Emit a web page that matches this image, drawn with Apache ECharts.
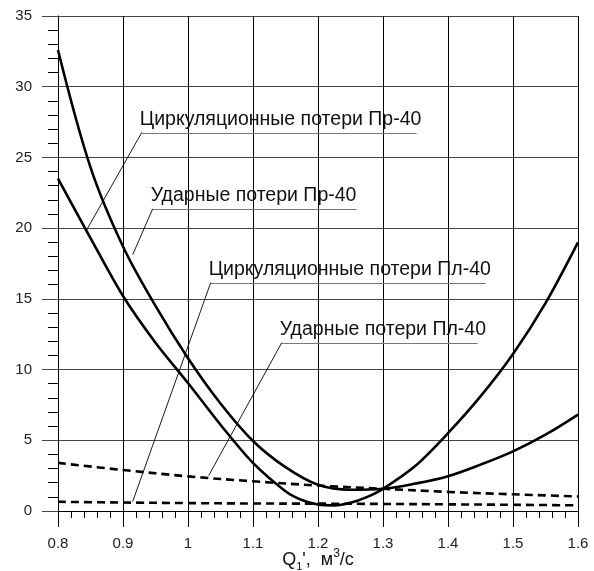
<!DOCTYPE html>
<html>
<head>
<meta charset="utf-8">
<script src="https://cdn.jsdelivr.net/npm/echarts@6/dist/echarts.min.js"></script>
<style>
html,body{margin:0;padding:0;background:#fff;overflow:hidden;}
#chart{width:594px;height:571px;}
</style>
</head>
<body>
<div id="chart"></div>
<script>
// ---- data ----
const xUdarPr40 = [0.8,0.85,0.9,0.95,1.0,1.05,1.1,1.15,1.2,1.25,1.3,1.35,1.4,1.45,1.5,1.55,1.6];
const udarPr40  = [32.6,24.3,18.7,14.5,10.8,7.6,4.95,3.1,1.85,1.5,1.57,1.94,2.46,3.28,4.22,5.4,6.82];
const xCircPr40 = [0.8,0.85,0.9,0.95,1.0,1.05,1.1,1.15,1.175,1.2,1.225,1.25,1.275,1.3,1.35,1.4,1.45,1.5,1.55,1.6];
const circPr40  = [23.5,19.3,15.2,11.9,9.05,6.1,3.4,1.4,0.78,0.46,0.4,0.58,0.98,1.57,3.2,5.5,8.1,11.1,14.7,19.0];
const xDashed = [0.8,0.9,1.0,1.1,1.2,1.3,1.4,1.5,1.6];
const udarPl40 = [3.4,2.9,2.45,2.1,1.8,1.57,1.35,1.18,1.03];
const circPl40 = [0.65,0.6,0.56,0.53,0.52,0.5,0.47,0.44,0.4];
const xTicks = {min:0.8, max:1.6, step:0.1};
const yTicks = {min:0, max:35, step:5};
const labelTexts = ['Циркуляционные потери Пр-40','Ударные потери Пр-40','Циркуляционные потери Пл-40','Ударные потери Пл-40'];
const annUnderStartX = [0.9288, 0.9457, 1.0349, 1.1442];
const annUnderEndX   = [1.3518, 1.2595, 1.4580, 1.4457];
const annUnderY      = [26.76, 21.37, 16.14, 11.9];
const annTargetX     = [0.8442, 0.9149, 0.9149, 1.0318];
const annTargetY     = [19.88, 18.12, 0.67, 2.5];

function pairs(xs, ys){ return xs.map((x,i)=>[x, ys[i]]); }

const FONT = 'Arial, "Liberation Sans", sans-serif';
const chart = echarts.init(document.getElementById('chart'), null, {renderer:'canvas', width:594, height:571});

chart.setOption({
  animation:false,
  backgroundColor:'#fff',
  grid:{left:58, right:16, top:16, bottom:60, containLabel:false, outerBoundsMode:'none'},
  xAxis:{
    type:'value', min:xTicks.min, max:xTicks.max, interval:xTicks.step,
    axisLine:{show:true, lineStyle:{color:'#000', width:1}},
    axisTick:{show:true, length:16, lineStyle:{color:'#000', width:1}},
    minorTick:{show:true, splitNumber:5, length:7, lineStyle:{color:'#000', width:1}},
    splitLine:{show:true, lineStyle:{color:'#000', width:1}},
    axisLabel:{margin:25, color:'#222', fontSize:15, fontFamily:FONT,
      formatter:v=>String(Math.round(v*10)/10)},
    name:'{q|Q}{s|1}{q|\',  м}{p|3}{q|/с}',
    nameLocation:'middle', nameGap:37, nameMoveOverlap:false,
    nameTextStyle:{
      color:'#111', fontFamily:FONT,
      rich:{
        q:{fontSize:18, fontFamily:FONT, color:'#111', lineHeight:24, verticalAlign:'middle'},
        s:{fontSize:11, fontFamily:FONT, color:'#111', lineHeight:24, verticalAlign:'bottom'},
        p:{fontSize:12, fontFamily:FONT, color:'#111', lineHeight:24, verticalAlign:'top'}
      }
    }
  },
  yAxis:{
    type:'value', min:yTicks.min, max:yTicks.max, interval:yTicks.step,
    axisLine:{show:true, lineStyle:{color:'#000', width:1}},
    axisTick:{show:true, length:16, lineStyle:{color:'#444', width:1}},
    minorTick:{show:true, splitNumber:5, length:10, lineStyle:{color:'#000', width:1}},
    splitLine:{show:true, lineStyle:{color:'#444', width:1}},
    axisLabel:{margin:26, color:'#222', fontSize:15, fontFamily:FONT}
  },
  series:[
    {type:'line', name:'Ударные потери Пр-40', data:pairs(xUdarPr40, udarPr40), smooth:0.35, symbol:'none',
      lineStyle:{color:'#000', width:2.6}},
    {type:'line', name:'Циркуляционные потери Пр-40', data:pairs(xCircPr40, circPr40), smooth:0.3, symbol:'none',
      lineStyle:{color:'#000', width:2.6}},
    {type:'line', name:'Ударные потери Пл-40', data:pairs(xDashed, udarPl40), smooth:0.4, symbol:'none',
      lineStyle:{color:'#000', width:2.6, type:[8,5]}},
    {type:'line', name:'Циркуляционные потери Пл-40', data:pairs(xDashed, circPl40), smooth:0.4, symbol:'none',
      lineStyle:{color:'#000', width:2.6, type:[8,5]}}
  ]
});

const elements = [];
labelTexts.forEach((t,i)=>{
  const p0 = chart.convertToPixel({gridIndex:0}, [annUnderStartX[i], annUnderY[i]]);
  const p1 = chart.convertToPixel({gridIndex:0}, [annUnderEndX[i], annUnderY[i]]);
  const pt = chart.convertToPixel({gridIndex:0}, [annTargetX[i], annTargetY[i]]);
  elements.push({type:'line', silent:true, z:10,
    shape:{x1:p0[0], y1:Math.round(p0[1])+0.5, x2:p1[0], y2:Math.round(p0[1])+0.5},
    style:{stroke:'#777', lineWidth:1.2}});
  elements.push({type:'line', silent:true, z:10,
    shape:{x1:p0[0], y1:p0[1], x2:pt[0], y2:pt[1]},
    style:{stroke:'#000', lineWidth:0.9}});
  elements.push({type:'text', silent:true, z:11,
    style:{text:t, x:p0[0]-2, y:p0[1]-3, fill:'#111', fontSize:19.5, fontFamily:FONT,
      align:'left', verticalAlign:'bottom'}});
});
chart.setOption({graphic:{elements}});
</script>
</body>
</html>
